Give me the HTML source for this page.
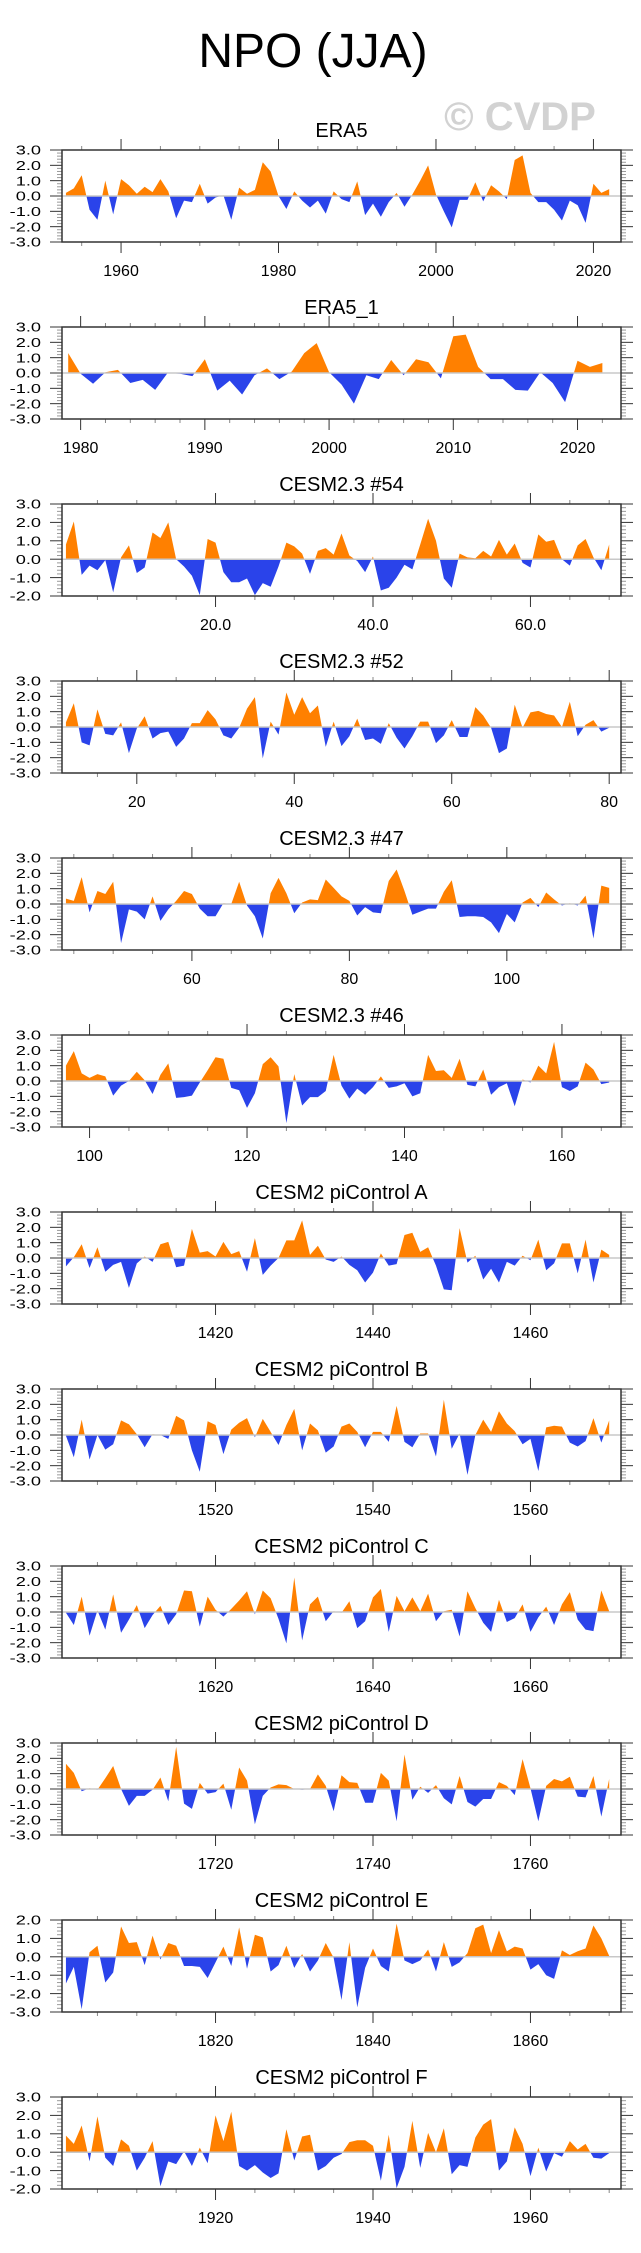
<!DOCTYPE html>
<html><head><meta charset="utf-8"><title>NPO (JJA)</title>
<style>
html,body{margin:0;padding:0;background:#fff;}
svg{display:block;font-family:"Liberation Sans",Arial,sans-serif;}
</style></head>
<body>
<svg id="chart" width="641" height="2253" viewBox="0 0 641 2253" xmlns="http://www.w3.org/2000/svg">
<rect x="0" y="0" width="641" height="2253" fill="#fff"/>
<text x="313" y="67" font-size="48" text-anchor="middle" fill="#000">NPO (JJA)</text>
<text x="520" y="130" font-size="40" font-weight="bold" text-anchor="middle" fill="#d2d2d2">© CVDP</text>
<g id="panels"></g>
</svg>
<script>
const titles = ["ERA5","ERA5_1","CESM2.3 #54","CESM2.3 #52","CESM2.3 #47","CESM2.3 #46","CESM2 piControl A","CESM2 piControl B","CESM2 piControl C","CESM2 piControl D","CESM2 piControl E","CESM2 piControl F"];
const firstYears = [1953,1979,1,11,44,97,1401,1501,1601,1701,1801,1901];
const yMins = [-3,-3,-2,-3,-3,-3,-3,-3,-3,-3,-3,-2];
const yMaxs = [3,3,3,3,3,3,3,3,3,3,2,3];
const majorSteps = [20,10,20,20,20,20,20,20,20,20,20,20];
const minorSteps = [5,2,5,5,5,5,5,5,5,5,5,5];
const labelDecimals = [0,0,1,0,0,0,0,0,0,0,0,0];

const s1 = [0.2,0.5,1.35,-0.9,-1.55,1.0,-1.2,1.1,0.7,0.15,0.6,0.25,1.1,0.3,-1.45,-0.3,-0.4,0.8,-0.5,-0.1,0.05,-1.55,0.55,0.15,0.4,2.2,1.6,0.0,-0.85,0.3,-0.3,-0.75,-0.3,-1.15,0.3,-0.2,-0.4,0.95,-1.25,-0.5,-1.35,-0.4,0.2,-0.7,0.1,1.0,2.0,0.1,-1.0,-2.05,-0.25,-0.25,0.9,-0.35,0.7,0.3,-0.2,2.35,2.65,0.2,-0.4,-0.4,-0.9,-1.6,-0.3,-0.6,-1.75,0.8,0.2,0.45];
const s2 = [1.3,-0.05,-0.7,0.05,0.2,-0.65,-0.45,-1.1,0.0,-0.05,-0.2,0.9,-1.15,-0.5,-1.4,-0.15,0.3,-0.4,0.1,1.3,1.95,0.05,-0.75,-2.0,-0.15,-0.4,0.85,-0.15,0.9,0.7,-0.35,2.4,2.5,0.4,-0.4,-0.4,-1.1,-1.15,0.05,-0.65,-1.9,0.8,0.4,0.65];
const s3 = [0.8,2.05,-0.85,-0.35,-0.6,-0.05,-1.8,0.1,0.75,-0.75,-0.45,1.45,1.15,2.0,0.0,-0.4,-0.9,-1.95,1.1,0.9,-0.7,-1.25,-1.25,-1.05,-1.95,-1.3,-1.5,-0.4,0.9,0.7,0.3,-0.8,0.45,0.6,0.25,1.4,0.2,-0.1,-0.7,0.15,-1.7,-1.55,-1.0,-0.3,-0.55,0.8,2.2,1.0,-1.05,-1.55,0.3,0.1,0.05,0.45,0.15,1.05,0.25,0.85,-0.2,-0.45,1.35,0.95,1.05,0.0,-0.35,0.75,1.1,0.1,-0.6,0.8];
const s4 = [0.3,1.55,-1.0,-1.2,1.15,-0.45,-0.55,0.3,-1.7,-0.1,0.7,-0.75,-0.4,-0.3,-1.3,-0.75,0.25,0.25,1.1,0.5,-0.55,-0.75,-0.05,1.2,1.95,-2.05,0.35,-0.5,2.25,0.8,1.95,0.9,1.4,-1.3,0.35,-1.25,-0.6,0.55,-0.85,-0.75,-1.1,0.25,-0.7,-1.4,-0.6,0.35,0.35,-1.05,-0.55,0.45,-0.65,-0.65,1.3,0.75,-0.05,-1.7,-1.4,1.45,-0.05,0.95,1.05,0.85,0.75,0.0,1.65,-0.6,0.15,0.45,-0.3,-0.05];
const s5 = [0.35,0.2,1.75,-0.55,0.85,0.65,1.45,-2.55,-0.35,-0.5,-1.0,0.5,-1.1,-0.35,0.2,0.85,0.65,-0.3,-0.8,-0.8,0.05,0.0,1.45,-0.1,-0.8,-2.25,0.7,1.7,0.7,-0.6,0.1,0.3,0.25,1.6,1.05,0.5,0.2,-0.75,-0.2,-0.55,-0.6,1.5,2.25,0.85,-0.7,-0.5,-0.3,-0.3,0.8,1.55,-0.85,-0.8,-0.8,-0.85,-1.2,-1.9,-0.65,-1.2,0.1,0.4,-0.2,0.75,0.3,-0.1,0.05,-0.1,0.55,-2.25,1.2,1.05];
const s6 = [1.0,1.95,0.5,0.2,0.45,0.3,-0.95,-0.3,0.0,0.6,0.05,-0.85,0.4,1.15,-1.1,-1.05,-0.95,-0.1,0.7,1.55,1.45,-0.45,-0.6,-1.75,-0.8,1.1,1.55,0.95,-2.75,0.45,-1.6,-1.05,-1.05,-0.65,1.7,-0.3,-1.15,-0.5,-0.9,-0.4,0.3,-0.45,-0.35,-0.15,-1.0,-0.8,1.7,0.65,0.7,0.2,1.45,-0.25,-0.35,0.75,-0.9,-0.4,-0.15,-1.65,0.1,-0.1,1.0,0.5,2.55,-0.4,-0.65,-0.35,1.2,0.75,-0.2,-0.1];
const s7 = [-0.55,0.05,0.9,-0.65,0.7,-0.9,-0.45,-0.25,-1.95,-0.35,0.1,-0.25,0.9,1.05,-0.6,-0.5,1.9,0.35,0.45,0.1,1.05,0.25,0.45,-0.9,1.3,-1.1,-0.5,0.0,1.15,1.15,2.45,0.2,0.8,-0.1,-0.25,0.1,-0.45,-0.8,-1.6,-0.95,0.3,-0.5,-0.4,1.5,1.65,0.4,0.7,-0.5,-2.05,-2.1,1.95,-0.3,0.15,-1.4,-0.7,-1.6,-0.25,-0.5,0.15,-0.15,1.2,-0.8,-0.35,0.95,0.95,-1.0,1.2,-1.6,0.55,0.2];
const s8 = [-0.05,-1.45,1.0,-1.6,0.0,-0.95,-0.6,0.95,0.7,0.05,-0.8,0.05,0.0,-0.25,1.25,0.95,-1.0,-2.4,0.9,0.65,-1.25,0.35,0.8,1.1,-0.15,1.05,0.2,-0.65,0.65,1.7,-1.0,0.75,0.3,-1.15,-0.75,0.55,0.75,0.2,-0.8,0.2,0.2,-0.45,1.9,-0.45,-0.8,0.1,0.1,-1.4,2.3,-0.9,0.1,-2.6,0.0,1.0,0.2,1.55,0.75,0.25,-0.6,-0.25,-2.35,0.5,0.6,0.55,-0.5,-0.75,-0.4,1.1,-0.5,0.95];
const s9 = [-0.05,-0.85,1.0,-1.55,0.1,-1.15,1.15,-1.35,-0.5,0.45,-1.05,-0.2,0.4,-0.85,-0.15,1.4,1.35,-0.95,1.0,0.15,-0.3,0.2,0.75,1.35,-0.15,1.4,0.9,-0.45,-2.05,2.25,-1.85,0.5,1.0,-0.6,0.05,-0.05,0.7,-1.05,-0.6,0.95,1.5,-1.3,1.05,0.05,0.95,0.05,1.2,-0.6,0.05,0.15,-1.6,1.35,0.25,-0.7,-1.3,0.8,-0.65,-0.4,0.5,-1.3,-0.35,0.35,-0.85,0.5,1.3,-0.5,-1.15,-1.25,1.4,0.05];
const s10 = [1.65,1.05,-0.15,0.05,-0.05,0.7,1.5,0.0,-1.1,-0.45,-0.45,-0.05,0.75,-0.8,2.75,-0.95,-1.3,0.4,-0.3,-0.2,0.35,-1.35,1.4,0.55,-2.3,-0.45,0.1,0.3,0.25,0.0,-0.05,0.0,0.95,0.2,-1.45,0.9,0.45,0.4,-0.9,-0.9,1.05,0.55,-2.1,2.25,-0.7,0.15,-0.25,0.25,-0.6,-1.0,0.85,-0.85,-1.15,-0.65,-0.65,0.45,0.2,-0.4,1.95,0.05,-2.1,0.2,0.65,0.5,0.8,-0.5,-0.55,0.85,-1.8,0.65];
const s11 = [-1.45,-0.55,-2.85,0.25,0.6,-1.4,-0.85,1.65,0.75,0.8,-0.45,1.15,-0.15,0.75,0.6,-0.5,-0.5,-0.55,-1.15,-0.3,0.55,-0.5,1.6,-0.65,1.2,1.05,-0.8,-0.45,0.6,-0.6,0.15,-0.8,-0.2,0.75,-0.05,-2.35,0.8,-2.75,-0.6,0.45,-0.5,-0.8,1.8,-0.2,-0.4,-0.2,0.4,-0.8,0.8,-0.55,-0.3,0.2,1.55,1.75,0.2,1.45,0.3,0.55,0.45,-0.7,-0.4,-1.0,-1.2,0.35,0.1,0.3,0.45,1.7,1.0,0.05];
const s12 = [0.9,0.45,1.45,-0.5,1.95,-0.3,-0.75,0.7,0.35,-1.0,-0.3,0.6,-1.85,-0.5,-0.65,0.05,-0.75,0.25,-0.6,2.0,0.6,2.2,-0.75,-1.0,-0.7,-1.1,-1.4,-1.15,1.25,-0.45,0.85,0.95,-1.0,-0.75,-0.3,-0.1,0.55,0.65,0.65,0.35,-1.55,0.95,-1.95,-0.8,1.7,-0.85,1.05,0.0,1.3,-1.2,-0.7,-0.8,0.8,1.5,1.8,-1.0,-0.5,1.35,0.45,-1.3,0.25,-1.05,-0.05,-0.25,0.6,0.15,0.45,-0.3,-0.35,-0.05];
const seriesList = [s1,s2,s3,s4,s5,s6,s7,s8,s9,s10,s11,s12];

const NS = "http://www.w3.org/2000/svg";
const root = document.getElementById("panels");
const PL = 62, PR = 621, PH = 92, TOP0 = 150, GAP = 177;
function mk(tag, attrs, parent){
  const e = document.createElementNS(NS, tag);
  for (const k in attrs) e.setAttribute(k, attrs[k]);
  parent.appendChild(e);
  return e;
}
seriesList.forEach(function(vals, p){
  const T = TOP0 + GAP * p, B = T + PH;
  const first = firstYears[p], last = first + vals.length - 1;
  const xmin = first - 0.5, xmax = last + 1.5;
  const ymin = yMins[p], ymax = yMaxs[p];
  const xs = function(v){ return PL + (v - xmin) / (xmax - xmin) * (PR - PL); };
  const ys = function(v){ return B - (v - ymin) / (ymax - ymin) * PH; };
  const g = mk("g", {}, root);
  
  
  const tt = mk("text", {x: (PL + PR) / 2, y: T - 13, "font-size": 20, "text-anchor": "middle", fill: "#000"}, g);
  tt.textContent = titles[p];
  
  
  // clip paths
  const defs = mk("defs", {}, g);
  const cpA = mk("clipPath", {id: "ca" + p}, defs);
  mk("rect", {x: PL, y: T, width: PR - PL, height: ys(0) - T}, cpA);
  const cpB = mk("clipPath", {id: "cb" + p}, defs);
  mk("rect", {x: PL, y: ys(0), width: PR - PL, height: B - ys(0)}, cpB);
  let pts = xs(first).toFixed(2) + "," + ys(0).toFixed(2);
  vals.forEach(function(v, i){ pts += " " + xs(first + i).toFixed(2) + "," + ys(v).toFixed(2); });
  pts += " " + xs(last).toFixed(2) + "," + ys(0).toFixed(2);
  const pos = mk("polygon", {points: pts, fill: "#ff8000", "clip-path": "url(#ca" + p + ")"}, g);
  
  
  const neg = mk("polygon", {points: pts, fill: "#2a43ea", "clip-path": "url(#cb" + p + ")"}, g);
  
  
  const zl = mk("line", {x1: PL, x2: PR, y1: ys(0), y2: ys(0), stroke: "#c8c8c8", "stroke-width": 1.5}, g);
  
  
  // y ticks
  for (let k = Math.round(ymin * 5); k <= Math.round(ymax * 5); k++) {
    const v = k / 5, y = ys(v), major = (k % 5 === 0);
    const len = major ? 12 : 5;
    mk("line", {x1: PL - len, x2: PL, y1: y, y2: y, stroke: major ? "#333" : "#999", "stroke-width": 1}, g);
    mk("line", {x1: PR, x2: PR + len, y1: y, y2: y, stroke: major ? "#333" : "#999", "stroke-width": 1}, g);
    if (major) {
      const lab = mk("text", {x: 0, y: 0, "font-size": 13, "text-anchor": "end", fill: "#000",
        transform: "translate(41," + (y + 4.7) + ") scale(1.4,1)"}, g);
      lab.textContent = v.toFixed(1);
      
      
    }
  }
  // x ticks
  const ms = minorSteps[p], Ms = majorSteps[p];
  for (let v = Math.ceil(xmin / ms) * ms; v <= xmax; v += ms) {
    const x = xs(v), major = (v % Ms === 0);
    const len = major ? 11 : 4;
    mk("line", {x1: x, x2: x, y1: B, y2: B + len, stroke: major ? "#333" : "#888", "stroke-width": 1}, g);
    mk("line", {x1: x, x2: x, y1: T - len, y2: T, stroke: major ? "#333" : "#888", "stroke-width": 1}, g);
    if (major) {
      const lab = mk("text", {x: x, y: B + 34, "font-size": 16, "text-anchor": "middle", fill: "#000"}, g);
      lab.textContent = v.toFixed(labelDecimals[p]);
      
      
    }
  }
  const box = mk("rect", {x: PL, y: T, width: PR - PL, height: PH, fill: "none", stroke: "#333", "stroke-width": 1.5}, g);
  
  
});
</script>
</body></html>
